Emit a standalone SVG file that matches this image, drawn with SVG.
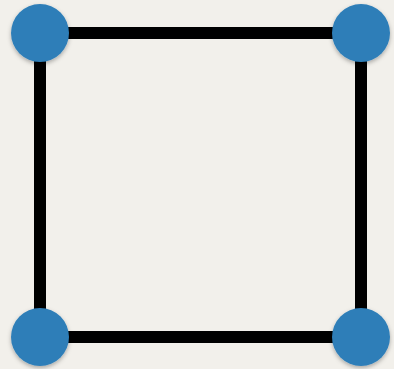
<svg xmlns="http://www.w3.org/2000/svg" width="394" height="369" viewBox="0 0 394 369">
<defs>
<style>
.edge{stroke:#000;stroke-width:12;fill:none}
.node{fill:#2e7eb8;filter:url(#sh)}
</style>
<filter id="sh" x="-30%" y="-30%" width="160%" height="160%">
<feDropShadow dx="0" dy="2" stdDeviation="2" flood-color="#000" flood-opacity="0.3"/>
</filter>
</defs>
<rect width="394" height="369" fill="#f2f0eb"/>
<g id="connectors">
<line class="edge" x1="40" y1="33" x2="361" y2="33"/>
<line class="edge" x1="361" y1="33" x2="361" y2="337"/>
<line class="edge" x1="361" y1="337" x2="40" y2="337"/>
<line class="edge" x1="40" y1="337" x2="40" y2="33"/>
</g>
<g id="n1"><circle class="node" cx="40" cy="33" r="29"/></g>
<g id="n2"><circle class="node" cx="361" cy="33" r="29"/></g>
<g id="n3"><circle class="node" cx="40" cy="337" r="29"/></g>
<g id="n4"><circle class="node" cx="361" cy="337" r="29"/></g>
</svg>
